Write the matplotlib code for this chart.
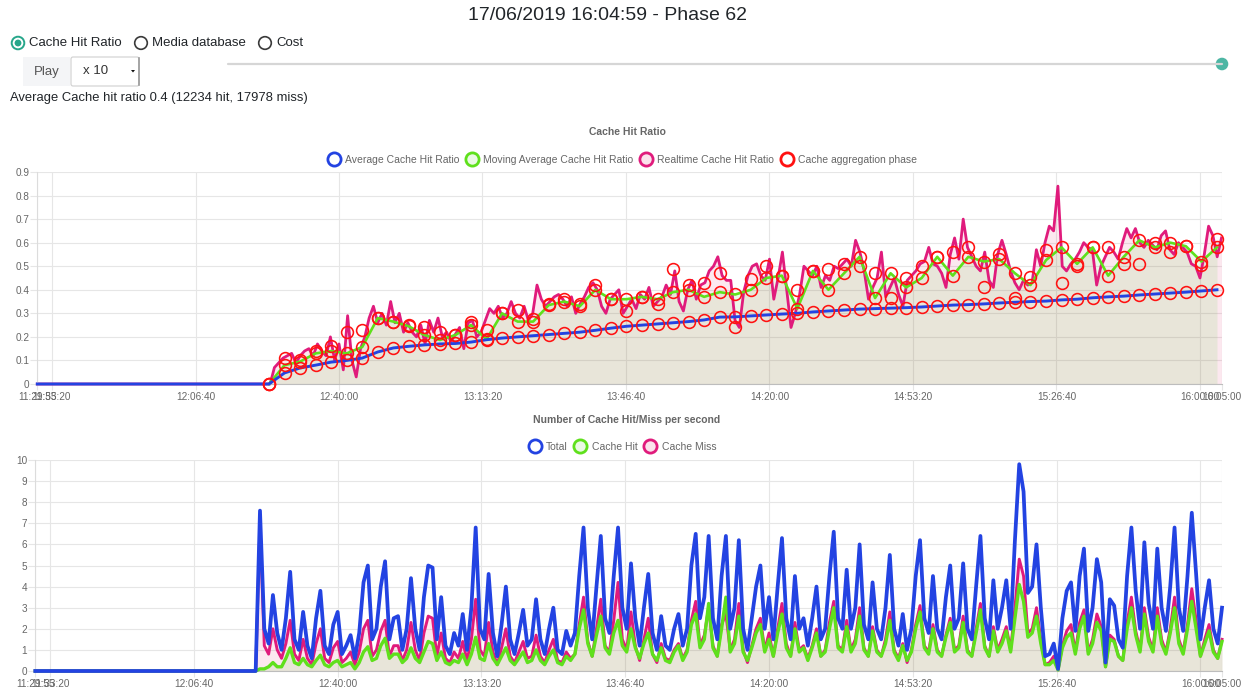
import numpy as np
import matplotlib
matplotlib.use("Agg")
import matplotlib.pyplot as plt
from matplotlib.lines import Line2D
from matplotlib.patches import Circle, Rectangle, FancyBboxPatch, Polygon

plt.rcParams['font.family'] = ['Liberation Sans', 'DejaVu Sans']

# ---------------------------------------------------------
# Data
# ---------------------------------------------------------
page_title = "17/06/2019 16:04:59 - Phase 62"
modes = ["Cache Hit Ratio", "Media database", "Cost"]
play_label = "Play"
speed_label = "x 10"
summary = "Average Cache hit ratio 0.4 (12234 hit, 17978 miss)"

axis_start = "11:29:55"
axis_end = "16:05:00"
x_tick_labels = ["11:29:55", "11:33:20", "12:06:40", "12:40:00", "13:13:20",
                 "13:46:40", "14:20:00", "14:53:20", "15:26:40", "16:00:00",
                 "16:05:00"]

# cache aggregation phases (62 of them, evenly spread)
phase_first = "12:23:44"
phase_last = "16:03:57"
avg_ratio = [0.0, 0.047, 0.068, 0.08, 0.093, 0.10, 0.11, 0.136, 0.153, 0.16,
             0.166, 0.17, 0.172, 0.178, 0.188, 0.195, 0.20, 0.205, 0.21, 0.215,
             0.22, 0.228, 0.237, 0.245, 0.25, 0.255, 0.26, 0.265, 0.272, 0.284,
             0.285, 0.289, 0.293, 0.297, 0.30, 0.306, 0.31, 0.314, 0.318, 0.32,
             0.322, 0.324, 0.327, 0.331, 0.335, 0.337, 0.34, 0.344, 0.347, 0.35,
             0.352, 0.357, 0.36, 0.366, 0.37, 0.373, 0.378, 0.382, 0.386, 0.39,
             0.395, 0.40]
moving_avg_ratio = [0.0, 0.08, 0.095, 0.13, 0.14, 0.13, 0.157, 0.28, 0.265, 0.245,
                    0.208, 0.187, 0.208, 0.25, 0.19, 0.30, 0.265, 0.265, 0.335, 0.35,
                    0.33, 0.40, 0.36, 0.36, 0.37, 0.36, 0.39, 0.40, 0.37, 0.39,
                    0.38, 0.40, 0.45, 0.46, 0.32, 0.48, 0.40, 0.47, 0.54, 0.365,
                    0.47, 0.41, 0.45, 0.54, 0.46, 0.54, 0.52, 0.53, 0.47, 0.42,
                    0.526, 0.58, 0.51, 0.58, 0.46, 0.54, 0.61, 0.58, 0.60, 0.585,
                    0.52, 0.58]
realtime_at_phase = [0.0, 0.11, 0.10, 0.14, 0.16, 0.22, 0.23, 0.28, 0.265, 0.25,
                     0.243, 0.22, 0.208, 0.265, 0.23, 0.30, 0.314, 0.275, 0.34, 0.36,
                     0.34, 0.42, 0.36, 0.31, 0.37, 0.34, 0.49, 0.42, 0.43, 0.47,
                     0.24, 0.445, 0.50, 0.46, 0.40, 0.48, 0.49, 0.51, 0.50, 0.47,
                     0.365, 0.45, 0.50, 0.54, 0.56, 0.58, 0.41, 0.55, 0.365, 0.455,
                     0.57, 0.43, 0.50, 0.58, 0.58, 0.51, 0.51, 0.60, 0.56, 0.585,
                     0.505, 0.615]

# realtime cache hit ratio, one sample per minute
realtime_first = "12:24:00"
realtime_ratio = [0.0, 0.07, 0.09, 0.11, 0.12, 0.13, 0.09, 0.12, 0.14, 0.15,
                  0.12, 0.17, 0.14, 0.12, 0.2, 0.1, 0.17, 0.06, 0.29, 0.1,
                  0.03, 0.15, 0.2, 0.28, 0.33, 0.26, 0.3, 0.25, 0.35, 0.26,
                  0.3, 0.22, 0.26, 0.22, 0.2, 0.25, 0.17, 0.27, 0.22, 0.28,
                  0.2, 0.22, 0.18, 0.21, 0.24, 0.15, 0.26, 0.27, 0.2, 0.22,
                  0.27, 0.32, 0.3, 0.33, 0.28, 0.3, 0.35, 0.3, 0.28, 0.33,
                  0.27, 0.3, 0.42, 0.36, 0.33, 0.35, 0.37, 0.38, 0.36, 0.33,
                  0.37, 0.3, 0.34, 0.37, 0.41, 0.43, 0.40, 0.33, 0.3, 0.36,
                  0.38, 0.4, 0.3, 0.33, 0.36, 0.32, 0.38, 0.36, 0.41, 0.33,
                  0.35, 0.37, 0.42, 0.38, 0.48, 0.35, 0.31, 0.4, 0.44, 0.36,
                  0.42, 0.43, 0.48, 0.5, 0.54, 0.46, 0.44, 0.44, 0.27, 0.24,
                  0.39, 0.46, 0.5, 0.51, 0.46, 0.44, 0.53, 0.36, 0.45, 0.56,
                  0.4, 0.24, 0.3, 0.38, 0.5, 0.48, 0.46, 0.5, 0.41, 0.46,
                  0.44, 0.5, 0.49, 0.51, 0.53, 0.5, 0.61, 0.56, 0.48, 0.36,
                  0.41, 0.45, 0.56, 0.37, 0.41, 0.45, 0.38, 0.33, 0.44, 0.46,
                  0.48, 0.51, 0.52, 0.58, 0.51, 0.5, 0.47, 0.41, 0.55, 0.62,
                  0.53, 0.7, 0.58, 0.54, 0.5, 0.48, 0.56, 0.44, 0.41, 0.55,
                  0.61, 0.55, 0.48, 0.43, 0.40, 0.44, 0.42, 0.43, 0.57, 0.5,
                  0.6, 0.67, 0.65, 0.84, 0.5, 0.48, 0.51, 0.53, 0.56, 0.6,
                  0.58, 0.57, 0.42, 0.5, 0.54, 0.58, 0.56, 0.53, 0.6, 0.66,
                  0.62, 0.66, 0.6, 0.58, 0.61, 0.59, 0.57, 0.63, 0.65, 0.57,
                  0.55, 0.6, 0.58, 0.56, 0.51, 0.5, 0.45, 0.55, 0.67, 0.63,
                  0.54, 0.62]

# requests per second, one sample per minute
counts_first = "12:21:00"
total_per_s = [0.0,
               7.6, 2.0, 1.3, 3.6, 1.8, 1.0, 2.5, 4.7, 1.5, 1.0,
               2.8, 1.2, 0.6, 2.5, 3.8, 1.2, 0.8, 2.2, 2.8, 0.8,
               1.2, 1.7, 0.6, 1.8, 4.2, 5.0, 1.5, 2.0, 4.0, 5.2,
               1.5, 2.5, 2.6, 1.0, 2.0, 4.4, 2.0, 1.0, 3.5, 5.0,
               4.9, 1.5, 3.5, 1.2, 0.8, 1.8, 1.2, 2.7, 1.0, 3.0,
               6.8, 2.0, 1.5, 4.6, 1.8, 0.7, 2.2, 4.0, 1.5, 0.8,
               1.8, 2.9, 1.2, 1.5, 3.4, 1.5, 0.8, 2.0, 3.0, 1.0,
               0.8, 1.9, 1.2, 1.8, 4.5, 6.8, 3.0, 1.5, 4.0, 6.4,
               2.5, 1.8, 4.5, 6.8, 3.0, 2.0, 5.1, 2.5, 1.2, 3.0,
               4.6, 1.8, 1.0, 2.6, 1.2, 1.0, 2.0, 2.7, 1.2, 2.0,
               5.0, 6.5, 2.5, 3.5, 6.4, 2.5, 1.5, 4.5, 6.4, 2.0,
               3.0, 6.2, 2.0, 1.0, 2.5, 4.0, 5.0, 2.0, 3.5, 1.5,
               4.0, 6.3, 2.5, 1.5, 4.5, 2.0, 2.5, 1.2, 2.5, 4.0,
               1.5, 2.0, 4.5, 6.6, 2.5, 2.0, 4.8, 2.0, 3.0, 6.0,
               2.2, 1.5, 4.2, 2.0, 1.5, 3.0, 5.5, 2.0, 1.2, 2.7,
               1.0, 2.0, 4.5, 6.2, 2.5, 1.8, 4.5, 2.0, 1.5, 3.5,
               5.0, 2.0, 2.5, 5.1, 2.0, 1.5, 4.0, 6.4, 2.5, 1.5,
               4.3, 2.0, 3.0, 4.3, 2.0, 6.2, 9.8, 8.5, 3.7, 4.0,
               6.0, 3.0, 0.7, 0.8, 1.3, 0.1, 2.5, 3.8, 4.2, 1.9,
               4.5, 5.8, 1.9, 3.0, 5.3, 4.2, 0.4, 3.4, 3.1, 1.5,
               1.1, 4.5, 6.8, 3.8, 2.0, 6.1, 3.2, 2.0, 5.8, 3.0,
               1.9, 4.0, 6.8, 3.0, 1.9, 4.5, 7.5, 4.6, 1.5, 3.0,
               4.3, 2.0, 1.3, 3.0]
hit_per_s = [0.0,
             0.1, 0.1, 0.2, 0.4, 0.2, 0.2, 0.6, 1.1, 0.4, 0.3,
             0.6, 0.3, 0.2, 0.5, 0.75, 0.3, 0.2, 0.4, 0.5, 0.2,
             0.3, 0.4, 0.1, 0.4, 0.9, 1.15, 0.5, 0.6, 1.2, 1.55,
             0.6, 0.8, 0.8, 0.4, 0.6, 1.1, 0.6, 0.4, 0.9, 1.4,
             1.3, 0.5, 0.9, 0.4, 0.3, 0.5, 0.4, 0.8, 0.3, 0.8,
             1.6, 0.6, 0.5, 1.3, 0.6, 0.3, 0.7, 1.1, 0.5, 0.3,
             0.6, 0.9, 0.4, 0.5, 1.0, 0.5, 0.3, 0.7, 1.0, 0.4,
             0.3, 0.7, 0.5, 0.8, 2.0, 2.9, 1.3, 0.7, 1.7, 2.6,
             1.1, 0.8, 1.8, 2.4, 1.2, 0.9, 2.0, 1.1, 0.6, 1.3,
             1.8, 0.8, 0.5, 1.1, 0.5, 0.4, 0.9, 1.2, 0.5, 0.9,
             2.2, 2.7, 1.1, 1.5, 3.2, 1.1, 0.7, 2.0, 3.5, 0.9,
             1.3, 2.6, 0.9, 0.5, 1.1, 1.8, 2.2, 0.9, 1.5, 0.7,
             1.8, 2.7, 1.1, 0.7, 2.0, 0.9, 1.1, 0.5, 1.1, 1.8,
             0.7, 0.9, 2.0, 3.0, 1.1, 0.9, 2.1, 0.9, 1.3, 2.6,
             1.0, 0.7, 1.9, 0.9, 0.7, 1.3, 2.4, 0.9, 0.5, 1.2,
             0.5, 0.9, 2.0, 2.8, 1.1, 0.8, 2.0, 0.9, 0.7, 1.6,
             2.3, 0.9, 1.1, 2.3, 0.9, 0.7, 1.8, 2.9, 1.1, 0.7,
             1.9, 0.9, 1.3, 1.9, 0.9, 2.5, 4.1, 3.3, 1.6, 1.8,
             2.6, 1.3, 0.3, 0.3, 0.5, 0.05, 1.1, 1.6, 1.8, 0.8,
             2.0, 2.6, 0.8, 1.3, 2.3, 1.9, 0.2, 1.5, 1.4, 0.7,
             0.5, 2.0, 3.0, 1.7, 0.9, 2.7, 1.4, 0.9, 2.6, 1.3,
             0.8, 1.8, 3.0, 1.3, 0.8, 2.0, 3.3, 2.0, 0.7, 1.3,
             1.9, 0.9, 0.6, 1.4]
miss_per_s = [0.0,
              7.0, 1.2, 0.8, 2.0, 1.0, 0.6, 1.3, 2.4, 0.8, 0.5,
              1.5, 0.6, 0.3, 1.3, 2.0, 0.6, 0.4, 1.1, 1.4, 0.4,
              0.6, 0.9, 0.3, 0.9, 2.0, 2.4, 0.7, 1.0, 1.9, 2.4,
              0.7, 1.2, 1.2, 0.5, 1.0, 2.3, 1.0, 0.5, 1.8, 2.6,
              2.5, 0.7, 1.8, 0.6, 0.4, 0.9, 0.6, 1.4, 0.5, 1.5,
              3.4, 1.0, 0.7, 2.3, 0.9, 0.3, 1.1, 2.0, 0.7, 0.4,
              0.9, 1.4, 0.6, 0.7, 1.7, 0.7, 0.4, 1.0, 1.5, 0.5,
              0.4, 0.9, 0.6, 0.8, 2.2, 3.5, 1.4, 0.7, 2.0, 3.4,
              1.2, 0.9, 2.4, 4.2, 1.5, 1.0, 2.8, 1.2, 0.5, 1.5,
              2.5, 0.8, 0.4, 1.3, 0.6, 0.5, 1.0, 1.3, 0.6, 1.0,
              2.4, 3.3, 1.2, 1.7, 3.0, 1.2, 0.7, 2.2, 2.7, 1.0,
              1.5, 3.2, 1.0, 0.4, 1.2, 2.0, 2.5, 1.0, 1.8, 0.7,
              2.0, 3.2, 1.3, 0.7, 2.3, 1.0, 1.2, 0.6, 1.2, 2.0,
              0.7, 1.0, 2.3, 3.3, 1.2, 1.0, 2.4, 1.0, 1.5, 3.0,
              1.1, 0.7, 2.1, 1.0, 0.7, 1.5, 2.8, 1.0, 0.6, 1.3,
              0.4, 1.0, 2.2, 3.1, 1.2, 0.9, 2.2, 1.0, 0.7, 1.7,
              2.5, 1.0, 1.2, 2.6, 1.0, 0.7, 2.0, 3.2, 1.2, 0.7,
              2.1, 1.0, 1.5, 2.1, 1.0, 3.0, 5.3, 4.5, 1.8, 2.0,
              3.0, 1.5, 0.3, 0.4, 0.7, 0.05, 1.2, 1.9, 2.2, 0.9,
              2.3, 2.9, 0.9, 1.5, 2.7, 2.1, 0.2, 1.7, 1.5, 0.7,
              0.5, 2.3, 3.5, 1.9, 1.0, 3.0, 1.6, 1.0, 3.0, 1.5,
              0.9, 2.0, 3.5, 1.5, 0.9, 2.2, 3.9, 2.4, 0.7, 1.5,
              2.2, 1.0, 0.6, 1.5]

# ---------------------------------------------------------
# Helpers
# ---------------------------------------------------------
def to_sec(label):
    h, m, s = map(int, label.split(":"))
    return h * 3600 + m * 60 + s

t_start, t_end = to_sec(axis_start), to_sec(axis_end)
x_ticks = [to_sec(l) for l in x_tick_labels]
phase_t = np.linspace(to_sec(phase_first), to_sec(phase_last), len(avg_ratio))
rt_t = to_sec(realtime_first) + 60 * np.arange(len(realtime_ratio))
cnt_t = to_sec(counts_first) + 60 * np.arange(len(total_per_s))

W, H = 1247, 689
BLUE = '#2343e2'
GREEN = '#5fe01c'
PINK = '#e01b7c'
RED = '#ff1111'
GRID = '#e6e6e6'
TXT = '#666666'

fig = plt.figure(figsize=(W / 100, H / 100), dpi=100)


def px_axes(left, top, right, bottom):
    return fig.add_axes([left / W, 1 - bottom / H, (right - left) / W, (bottom - top) / H])


def style_chart(ax, ymax, yticks, ylabels):
    ax.set_xlim(t_start, t_end)
    ax.set_ylim(0, ymax)
    ax.set_xticks(x_ticks)
    ax.set_xticklabels(x_tick_labels)
    ax.set_yticks(yticks)
    ax.set_yticklabels(ylabels)
    ax.grid(True, color=GRID, lw=0.8)
    ax.set_axisbelow(True)
    for side in ('top', 'right'):
        ax.spines[side].set_visible(False)
    ax.spines['left'].set_color('#dcdcdc')
    ax.spines['left'].set_linewidth(0.8)
    ax.spines['bottom'].set_color('#bdbdbd')
    ax.spines['bottom'].set_linewidth(0.8)
    ax.tick_params(axis='y', length=5, width=0.8, color=GRID, labelsize=7.2,
                   labelcolor=TXT, pad=0.8)
    ax.tick_params(axis='x', length=4, width=0.8, color=GRID, labelsize=7.2,
                   labelcolor=TXT, pad=2)


def add_legend(ax, entries, cx, cy):
    handles = [Line2D([], [], ls='none', marker='o', ms=9.5, mew=2.0, mec=c, mfc=f)
               for _, c, f in entries]
    ax.legend(handles, [e[0] for e in entries], loc='center',
              bbox_to_anchor=(cx / W, 1 - cy / H), bbox_transform=fig.transFigure,
              ncol=len(entries), frameon=False, fontsize=7.5, labelcolor=TXT,
              handlelength=1.3, handletextpad=0.45, columnspacing=0.55,
              borderpad=0, borderaxespad=0)


# ---------------------------------------------------------
# Page header (widgets drawn in pixel coordinates)
# ---------------------------------------------------------
ov = fig.add_axes([0, 0, 1, 1], zorder=-1)
ov.set_xlim(0, W)
ov.set_ylim(H, 0)
ov.axis('off')

ov.text(607, 15.5, page_title, ha='center', va='center', fontsize=14.0, color='#212529')

radio_x = [18, 141, 265]
for i, (label, rx) in enumerate(zip(modes, radio_x)):
    if i == 0:
        ov.add_patch(Circle((rx, 43), 6.3, fc='white', ec='#26a68a', lw=1.4))
        ov.add_patch(Circle((rx, 43), 3.4, fc='#26a68a', ec='none'))
    else:
        ov.add_patch(Circle((rx, 43), 6.3, fc='white', ec='#3a3a3a', lw=1.2))
    ov.text(rx + 11, 43.5, label, ha='left', va='center', fontsize=9.5, color='#212529')

ov.add_patch(Rectangle((23, 57), 47, 29, fc='#f4f5f7', ec='none'))
ov.text(46.5, 71.5, play_label, ha='center', va='center', fontsize=9.5, color='#555555')
ov.add_patch(FancyBboxPatch((71, 57), 68, 29, boxstyle='round,pad=0,rounding_size=2',
                            fc='white', ec='#cfcfcf', lw=0.8))
ov.plot([138.5, 138.5], [58, 85], color='#9a9a9a', lw=1.2)
ov.text(96, 71.5, speed_label, ha='center', va='center', fontsize=9.5, color='#333333')
ov.add_patch(Polygon([[131, 70], [135, 70], [133, 72.5]], closed=True, fc='#111111', ec='none'))

ov.plot([228, 1222], [64, 64], color='#d6d6d6', lw=1.6, solid_capstyle='round')
ov.add_patch(Circle((1222, 64), 6.3, fc='#4db6a4', ec='none'))

ov.text(10, 97.5, summary, ha='left', va='center', fontsize=9.4, color='#212529')

# chart titles
fig.text(627 / W, 1 - 132 / H, "Cache Hit Ratio", ha='center', va='center',
         fontsize=7.5, fontweight='bold', color=TXT)
fig.text(627 / W, 1 - 420 / H, "Number of Cache Hit/Miss per second", ha='center',
         va='center', fontsize=7.5, fontweight='bold', color=TXT)

# ---------------------------------------------------------
# Chart 1: cache hit ratio
# ---------------------------------------------------------
ax1 = px_axes(37.3, 172, 1221.5, 384)
style_chart(ax1, 0.9, np.round(np.arange(0, 0.91, 0.1), 1),
            ['0'] + ['%.1f' % v for v in np.arange(0.1, 0.91, 0.1)])

rt_x = np.concatenate(([t_start], rt_t))
rt_y = np.concatenate(([0.0], realtime_ratio))
avg_x = np.concatenate(([t_start], phase_t))
avg_y = np.concatenate(([0.0], avg_ratio))

ax1.fill_between(rt_t, realtime_ratio, 0, color='#e91e63', alpha=0.1, lw=0, zorder=1)
ax1.fill_between(phase_t, moving_avg_ratio, 0, color='#3ccd1e', alpha=0.1, lw=0, zorder=1)
ax1.plot(rt_x, rt_y, color=PINK, lw=2.0, zorder=2, clip_on=False)
ax1.plot(phase_t, moving_avg_ratio, color=GREEN, lw=1.9, zorder=3, clip_on=False)
ax1.plot(avg_x, avg_y, color=BLUE, lw=2.1, zorder=4, clip_on=False)
for series in (avg_ratio, moving_avg_ratio, realtime_at_phase):
    ax1.plot(phase_t, series, ls='none', marker='o', ms=8.5, mfc='none', mec=RED,
             mew=1.15, zorder=5, clip_on=False)

add_legend(ax1, [("Average Cache Hit Ratio", BLUE, 'white'),
                 ("Moving Average Cache Hit Ratio", GREEN, '#eaf9e4'),
                 ("Realtime Cache Hit Ratio", PINK, '#fbe2ec'),
                 ("Cache aggregation phase", RED, 'white')], 622, 160)

# ---------------------------------------------------------
# Chart 2: hits / misses per second
# ---------------------------------------------------------
ax2 = px_axes(35.3, 460, 1222, 671)
style_chart(ax2, 10, np.arange(0, 11), [str(v) for v in range(11)])

cx = np.concatenate(([t_start], cnt_t))
ax2.fill_between(cnt_t, miss_per_s, 0, color='#e91e63', alpha=0.1, lw=0, zorder=1)
ax2.fill_between(cnt_t, hit_per_s, 0, color='#3ccd1e', alpha=0.1, lw=0, zorder=1)
ax2.plot(cx, np.concatenate(([0.0], miss_per_s)), color=PINK, lw=2.1, zorder=2,
         clip_on=False, solid_joinstyle='round')
ax2.plot(cx, np.concatenate(([0.0], hit_per_s)), color=GREEN, lw=2.4, zorder=3,
         clip_on=False, solid_joinstyle='round')
ax2.plot(cx, np.concatenate(([0.0], total_per_s)), color=BLUE, lw=2.7, zorder=4,
         clip_on=False, solid_joinstyle='round')

add_legend(ax2, [("Total", BLUE, 'white'),
                 ("Cache Hit", GREEN, '#eaf9e4'),
                 ("Cache Miss", PINK, '#fbe2ec')], 622, 447)

plt.savefig("out.png", dpi=100)
plt.close()
